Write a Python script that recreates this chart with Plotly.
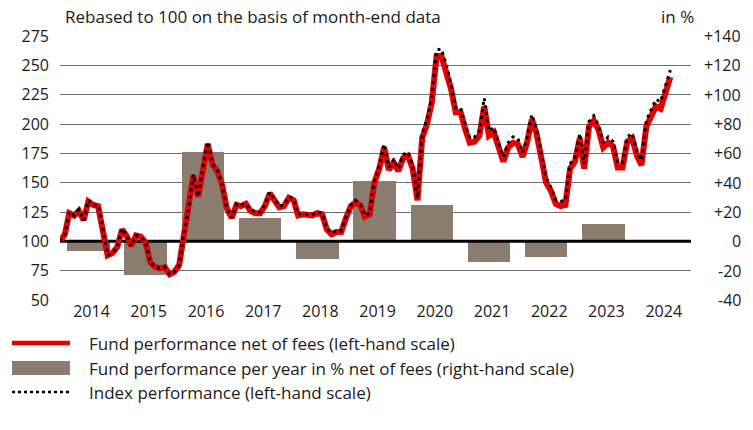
import pandas as pd
import plotly.graph_objects as go

# ---- data ----
fund = [
    100, 106, 124, 122, 126, 118, 134, 131, 130, 112, 88, 90,
    95, 110, 105, 96, 105, 104, 99, 82, 78, 77, 78, 72,
    74, 80, 106, 126, 156, 138, 162, 183, 165, 160, 148, 128,
    120, 131, 130, 132, 126, 124, 124, 130, 141, 135, 129, 130,
    137, 135, 122, 123, 122, 122, 124, 123, 110, 106, 108, 108,
    120, 130, 133, 131, 121, 123, 150, 162, 180, 161, 167, 160,
    171, 173, 162, 135, 188, 200, 218, 258, 258, 246, 230, 210,
    210, 195, 184, 185, 190, 215, 190, 193, 180, 168, 180, 184,
    183, 172, 184, 204, 192, 172, 150, 143, 132, 130, 131, 162,
    168, 188, 162, 198, 203, 195, 180, 184, 181, 163, 163, 185,
    188, 173, 165, 198, 207, 215, 213, 225, 240,
]
index = [
    100, 106, 125, 122, 127, 118, 135, 131, 131, 112, 88, 90,
    95, 111, 105, 96, 105, 104, 99, 82, 78, 77, 78, 72,
    74, 80, 106, 127, 157, 138, 163, 185, 166, 161, 148, 128,
    120, 132, 131, 132, 127, 125, 125, 131, 142, 136, 130, 131,
    138, 136, 123, 124, 123, 123, 125, 124, 111, 107, 109, 109,
    121, 131, 135, 132, 122, 124, 152, 164, 183, 163, 170, 162,
    174, 176, 164, 137, 191, 204, 222, 263, 264, 251, 234, 214,
    214, 199, 188, 189, 194, 222, 194, 197, 184, 172, 184, 189,
    188, 176, 188, 208, 196, 176, 154, 146, 135, 134, 135, 166,
    172, 192, 166, 202, 207, 199, 184, 189, 185, 167, 167, 189,
    192, 177, 169, 203, 212, 221, 219, 232, 246,
]
years = [2014, 2015, 2016, 2017, 2018, 2019, 2020, 2021, 2022, 2023]
yearly_pct = [-6.4, -23, 61, 16, -12, 41, 25, -14, -10.5, 12]
year_labels = ["2014", "2015", "2016", "2017", "2018", "2019", "2020",
               "2021", "2022", "2023", "2024"]
left_ticks = [50, 75, 100, 125, 150, 175, 200, 225, 250, 275]
right_ticks = [-40, -20, 0, 20, 40, 60, 80, 100, 120, 140]
right_tick_text = ["-40", "-20", "0", "+20", "+40", "+60", "+80", "+100", "+120", "+140"]

# ---- derived ----
dates = pd.date_range("2014-01-01", periods=len(fund), freq="MS") - pd.Timedelta(days=1)
bar_x = [pd.Timestamp(f"{y}-07-01") for y in years]
tick_x = [pd.Timestamp(f"{y}-07-20") for y in year_labels]
x0, x1 = pd.Timestamp("2013-12-31"), pd.Timestamp("2025-01-10")

FONT = "Open Sans"
TXT = "#1a1a1a"
RED = "#e60000"
BAR = "#8a7d70"

fig = go.Figure()
fig.add_trace(go.Bar(
    x=bar_x, y=yearly_pct, yaxis="y",
    width=271 * 24 * 3600 * 1000, marker=dict(color=BAR, line=dict(width=0)),
    showlegend=False, hoverinfo="skip",
))
# baseline (0 % / 100) drawn over the bars
fig.add_trace(go.Scatter(
    x=[x0, x1], y=[0, 0], yaxis="y", mode="lines",
    line=dict(color="black", width=3), showlegend=False, hoverinfo="skip",
))
fig.add_trace(go.Scatter(
    x=dates, y=fund, yaxis="y2", mode="lines",
    line=dict(color=RED, width=6), showlegend=False,
))
fig.add_trace(go.Scatter(
    x=dates, y=index, yaxis="y2", mode="lines",
    line=dict(color="black", width=3, dash="3px,4px"), showlegend=False,
))

L, R, T, B = 60, 62, 36, 130
W, H = 753, 430
pw, ph = W - L - R, H - T - B


def px(xp):
    return (xp - L) / pw


def py(yp):
    return (H - B - yp) / ph


annotations = [
    dict(text="Rebased to 100 on the basis of month-end data", xref="paper", yref="paper",
         x=px(63), y=py(17), xanchor="left", yanchor="middle", showarrow=False,
         font=dict(family=FONT, size=17, color=TXT)),
    dict(text="in %", xref="paper", yref="paper", x=px(696), y=py(17),
         xanchor="right", yanchor="middle", showarrow=False,
         font=dict(family=FONT, size=17, color=TXT)),
]
for v, t in zip(right_ticks, right_tick_text):
    annotations.append(dict(text=t, xref="paper", yref="y", x=px(743), y=v,
                            xanchor="right", yanchor="middle", showarrow=False,
                            font=dict(family=FONT, size=16, color=TXT)))

legend_items = [
    ("Fund performance net of fees (left-hand scale)", 343),
    ("Fund performance per year in % net of fees (right-hand scale)", 368),
    ("Index performance (left-hand scale)", 392),
]
for t, yp in legend_items:
    annotations.append(dict(text=t, xref="paper", yref="paper", x=px(87), y=py(yp),
                            xanchor="left", yanchor="middle", showarrow=False,
                            font=dict(family=FONT, size=17, color=TXT)))

shapes = [
    dict(type="line", xref="paper", yref="paper", x0=px(12), x1=px(70),
         y0=py(343), y1=py(343), line=dict(color=RED, width=4.5)),
    dict(type="rect", xref="paper", yref="paper", x0=px(12), x1=px(70),
         y0=py(361), y1=py(375), fillcolor=BAR, line=dict(width=0)),
    dict(type="line", xref="paper", yref="paper", x0=px(12), x1=px(70),
         y0=py(392), y1=py(392), line=dict(color="black", width=2.5, dash="3px,3px")),
]

fig.update_layout(
    width=W, height=H,
    margin=dict(l=L, r=R, t=T, b=B, pad=0),
    paper_bgcolor="white", plot_bgcolor="white",
    font=dict(family=FONT, size=16, color=TXT),
    showlegend=False, bargap=0,
    xaxis=dict(type="date", range=[x0, x1], tickvals=tick_x, ticktext=year_labels,
               showgrid=False, zeroline=False, showline=False, ticks="",
               tickfont=dict(family=FONT, size=16, color=TXT), fixedrange=True),
    yaxis=dict(range=[-40, 140], tickvals=right_ticks, side="right",
               showticklabels=False, showgrid=True, gridcolor="#707070", gridwidth=1.3,
               zeroline=False, showline=False, ticks="", fixedrange=True),
    yaxis2=dict(range=[50, 275], tickvals=left_ticks, overlaying="y", side="left",
                showgrid=False, zeroline=False, showline=False, ticks="",
                ticklabelstandoff=10,
                tickfont=dict(family=FONT, size=16, color=TXT), fixedrange=True),
    annotations=annotations, shapes=shapes,
)

fig.write_html("out.html", config={"displayModeBar": False},
               post_script="document.body.style.margin='0';")
